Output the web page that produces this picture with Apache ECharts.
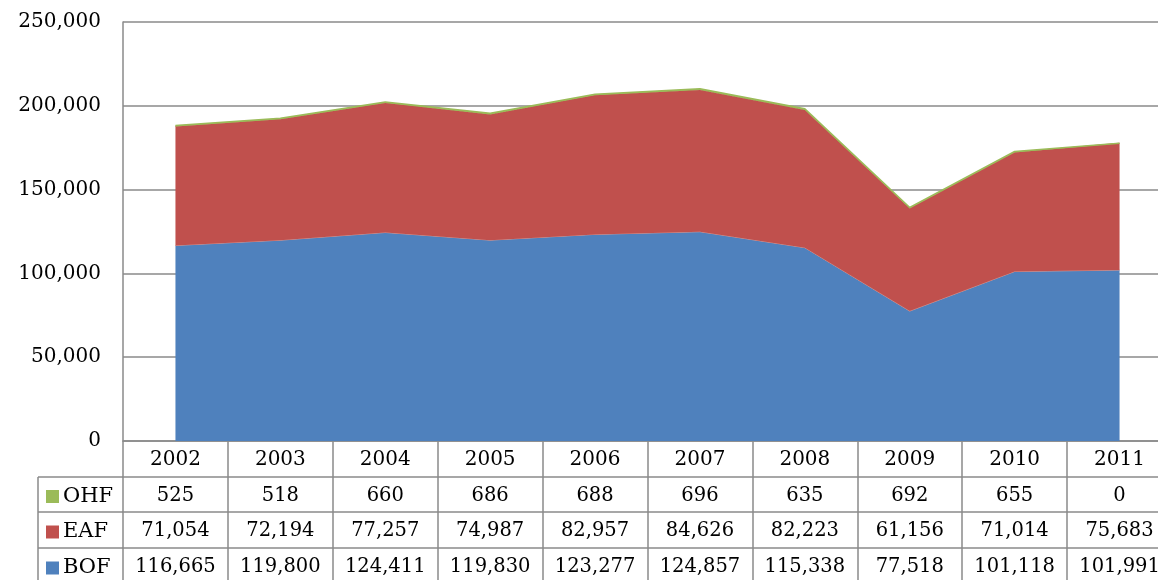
<!DOCTYPE html>
<html>
<head>
<meta charset="utf-8">
<script src="https://cdn.jsdelivr.net/npm/echarts@6/dist/echarts.min.js"></script>
<style>
html,body{margin:0;padding:0;background:#fff;}
#chart{width:1158px;height:580px;}
</style>
</head>
<body>
<div id="chart"></div>
<script>
const years = ['2002','2003','2004','2005','2006','2007','2008','2009','2010','2011'];
const bof = [116665,119800,124411,119830,123277,124857,115338,77518,101118,101991];
const eaf = [71054,72194,77257,74987,82957,84626,82223,61156,71014,75683];
const ohf = [525,518,660,686,688,696,635,692,655,0];
const yTicks = [0,50000,100000,150000,200000,250000];

const FONT = 'DejaVu Serif';
const GRID_LEFT = 123, GRID_TOP = 22, GRID_W = 1049, GRID_H = 419;
const ROW_H = [36, 35, 36, 36];
const LABEL_X = 46;
const LINE = '#8a8a8a';
const fmt = v => Number(v).toLocaleString('en-US');

const rows = [
  {name:'OHF', color:'#9BBB59', data: ohf},
  {name:'EAF', color:'#C0504D', data: eaf},
  {name:'BOF', color:'#4F81BD', data: bof}
];

const xAxes = [{
  type:'category', data: years, gridIndex:0, position:'bottom', offset:0,
  boundaryGap:true,
  axisLine:{show:true, lineStyle:{color:LINE, width:1.5}},
  axisTick:{show:true, interval:0, length:ROW_H[0], lineStyle:{color:LINE, width:1.5}},
  axisLabel:{interval:0, margin:ROW_H[0]/2 + 1, verticalAlign:'middle', fontFamily:FONT, fontSize:20, color:'#000'}
}];
let off = ROW_H[0];
rows.forEach((r, i) => {
  const h = ROW_H[i+1];
  xAxes.push({
    type:'category', data: years, gridIndex:0, position:'bottom', offset: off,
    boundaryGap:true,
    axisLine:{show:true, lineStyle:{color:LINE, width:1.5}},
    axisTick:{show:true, interval:0, length:h, lineStyle:{color:LINE, width:1.5}},
    axisLabel:{interval:0, margin:h/2 + 1, verticalAlign:'middle', fontFamily:FONT, fontSize:19.5, color:'#000',
      formatter:(v, idx) => fmt(r.data[idx])},
    name:'{sq|}{t|' + r.name + '}',
    nameLocation:'start', nameGap: GRID_LEFT - LABEL_X,
    nameTextStyle:{align:'left', verticalAlign:'top', lineHeight:h, padding:[2,0,0,0],
      rich:{
        sq:{width:13, height:13, backgroundColor:r.color, verticalAlign:'middle'},
        t:{padding:[0,0,0,4], fontFamily:FONT, fontSize:21, color:'#000', lineHeight:h, verticalAlign:'middle'}
      }}
  });
  off += h;
});

// label column borders
const tableTop = GRID_TOP + GRID_H + ROW_H[0];
const graphics = [];
let yy = tableTop;
for (let i = 0; i < 3; i++) {
  graphics.push({type:'line', shape:{x1:38, y1:yy, x2:GRID_LEFT, y2:yy}, style:{stroke:LINE, lineWidth:1.5}});
  yy += ROW_H[i+1];
}
graphics.push({type:'line', shape:{x1:38, y1:tableTop, x2:38, y2:590}, style:{stroke:LINE, lineWidth:1.5}});

const chart = echarts.init(document.getElementById('chart'));
chart.setOption({
  animation:false,
  backgroundColor:'#fff',
  grid:{left:GRID_LEFT, top:GRID_TOP, width:GRID_W, height:GRID_H, containLabel:false, outerBoundsMode:'none'},
  xAxis: xAxes,
  yAxis:{
    type:'value', min:yTicks[0], max:yTicks[yTicks.length-1], interval:yTicks[1]-yTicks[0],
    axisLine:{show:true, lineStyle:{color:LINE, width:1.5}},
    axisTick:{show:false},
    splitLine:{show:true, lineStyle:{color:LINE, width:1.5}},
    axisLabel:{margin:22, fontFamily:FONT, fontSize:20, color:'#000', formatter:v => fmt(v)}
  },
  series:[
    {name:'BOF', type:'line', stack:'total', data:bof, showSymbol:false, symbol:'none',
      lineStyle:{color:'#d09593', width:1}, areaStyle:{color:'#4F81BD', opacity:1}, z:2},
    {name:'EAF', type:'line', stack:'total', data:eaf, showSymbol:false, symbol:'none',
      lineStyle:{color:'#C0504D', width:1}, areaStyle:{color:'#C0504D', opacity:1}, z:3},
    {name:'OHF', type:'line', stack:'total', data:ohf, showSymbol:false, symbol:'none',
      lineStyle:{color:'#9BBB59', width:1.5}, areaStyle:{color:'#9BBB59', opacity:1}, z:4}
  ],
  graphic: graphics
});
</script>
</body>
</html>
